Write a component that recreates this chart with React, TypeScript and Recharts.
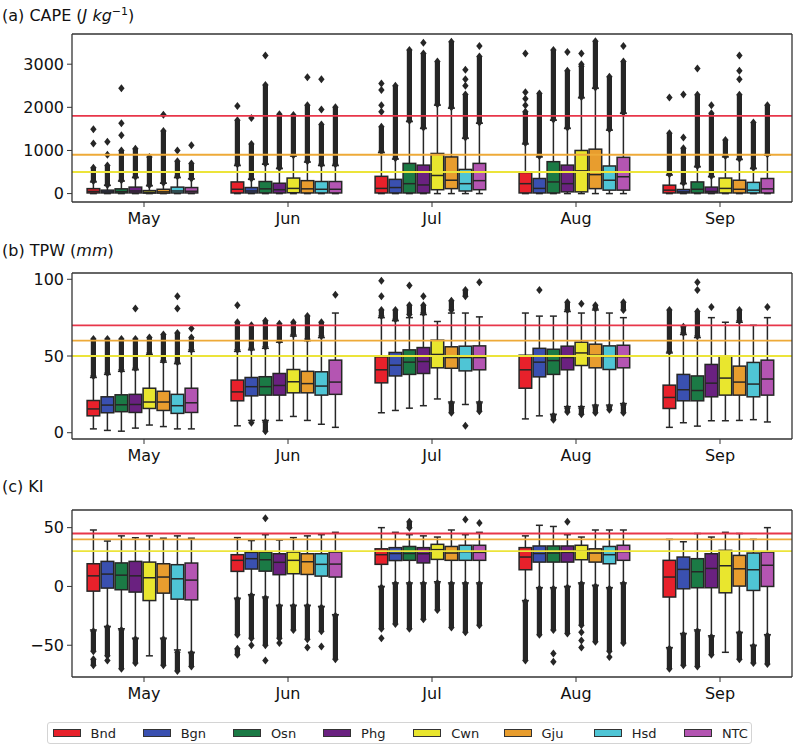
import React from "react";
import { ComposedChart, Bar, XAxis, YAxis, ReferenceLine } from "recharts";

const MONTHS = ["May", "Jun", "Jul", "Aug", "Sep"];
const STATIONS = ["Bnd", "Bgn", "Osn", "Phg", "Cwn", "Gju", "Hsd", "NTC"];
const COLORS = ["#e8212b", "#3a50b0", "#1b7a45", "#6a2180", "#e9e62e", "#e89d2e", "#4fc5d5", "#b455b2"];
const LINE_COLORS = ["#e8364a", "#eeaa38", "#ece43a"];
const EDGE = "#262626";
const AXIS = "#333";

// boxes: [low whisker, q1, median, q3, high whisker]; rows = months, columns = stations
const CAPE_BOX = [
  [[0, 15, 50, 115, 270], [0, 15, 40, 80, 190], [0, 15, 45, 110, 290], [0, 15, 60, 150, 370], [0, 10, 30, 70, 180], [0, 10, 40, 100, 240], [0, 15, 60, 150, 370], [0, 15, 55, 140, 340]],
  [[0, 15, 100, 270, 650], [0, 15, 60, 140, 330], [0, 15, 110, 280, 680], [0, 15, 90, 240, 580], [0, 20, 120, 360, 870], [0, 15, 110, 300, 730], [0, 15, 100, 280, 650], [0, 15, 100, 280, 650]],
  [[0, 15, 120, 400, 950], [0, 15, 140, 330, 800], [0, 15, 230, 700, 1670], [0, 15, 200, 660, 1510], [0, 90, 420, 930, 2050], [0, 115, 310, 850, 1980], [0, 60, 230, 560, 1280], [0, 90, 300, 700, 1630]],
  [[0, 15, 230, 490, 1150], [0, 15, 120, 350, 850], [0, 15, 270, 740, 1700], [0, 40, 230, 660, 1510], [0, 40, 527, 1000, 2220], [0, 115, 440, 1030, 2440], [0, 80, 310, 640, 1470], [0, 80, 390, 840, 1860]],
  [[0, 15, 80, 195, 430], [0, 15, 40, 95, 230], [0, 15, 100, 270, 620], [0, 15, 50, 150, 390], [0, 15, 120, 360, 850], [0, 15, 100, 310, 790], [0, 15, 80, 260, 580], [0, 15, 110, 350, 890]],
];
// dense runs of outliers [from, to]
const CAPE_RUNS = [
  [[[290, 600]], [[200, 650]], [[310, 1000]], [[390, 1040]], [[200, 850]], [[250, 1450]], [[400, 750]], [[350, 700]]],
  [[[680, 1700]], [[350, 1150]], [[700, 2520]], [[600, 1840]], [[890, 1820]], [[750, 2050]], [[680, 1600]], [[680, 2000]]],
  [[[980, 1550]], [[820, 2500]], [[1690, 3330]], [[1530, 3250]], [[2070, 3060]], [[2000, 3520]], [[1300, 2300]], [[1650, 3180]]],
  [[[1170, 1900]], [[870, 2320]], [[1720, 3330]], [[1530, 2850]], [[2240, 2950]], [[2460, 3530]], [[1490, 2710]], [[1880, 3060]]],
  [[[450, 1400]], [[250, 1050]], [[640, 2290]], [[410, 1860]], [[870, 1240]], [[810, 2290]], [[600, 1650]], [[910, 2050]]],
];
// single outliers
const CAPE_PTS = [
  [[1160, 1490], [900, 1200], [1350, 1630, 2440], [], [], [1830], [1000], [1120]],
  [[2030], [1750], [3200], [], [], [2700], [1950, 2650], []],
  [[1900, 2050, 2400, 2550], [], [], [3500], [], [], [2500, 2650, 2870], [3420]],
  [[2050, 2200, 2350, 3250], [], [], [3280], [3000, 3250], [], [], [3420]],
  [[2230], [1300, 2300], [2900], [2050], [], [2650, 2850, 3200], [], []],
];
const CAPE_LINES = [1800, 900, 500];
const CAPE_TICKS = [0, 1000, 2000, 3000];

const TPW_BOX = [
  [[2.5, 11, 15.5, 21, 36], [1.5, 13, 18, 23.4, 38], [1, 13.7, 18.2, 24.7, 40], [3, 13.2, 18.4, 25, 41], [5, 15.8, 20, 29, 51], [4, 14.5, 20, 27, 46], [2.5, 12.6, 17.6, 25, 45], [2.5, 13.2, 19.5, 29, 53]],
  [[4.5, 20.8, 26.6, 34.3, 53], [8, 24, 30, 36, 54], [8, 24.5, 30, 36.5, 55], [8, 24.5, 30.8, 38.6, 59], [10.6, 26, 33.2, 41.2, 63], [8, 26, 32, 40, 60], [5.5, 24.5, 30.4, 39.7, 62], [3.5, 25, 33, 47.3, 78]],
  [[13, 32.5, 41, 49.5, 75], [14.5, 37, 44, 52.3, 73], [16, 38, 46, 54, 75], [17.6, 38.6, 46.4, 55.5, 77], [22, 42.3, 51, 60.3, 72.5], [20, 42, 49, 56, 78], [18.4, 40.3, 49, 56.4, 78], [20, 41, 49, 56.6, 75.5]],
  [[9, 29, 41, 50.5, 78], [11, 36.4, 46, 55, 76], [12, 38, 47, 54.4, 76], [17, 41, 49, 56.4, 79], [17, 43.8, 52, 59, 78], [18, 42.3, 50.5, 57.7, 80], [18, 41.2, 49.7, 56.6, 78], [19, 42.3, 49.5, 57, 75]],
  [[3.5, 15.8, 23, 31, 52], [6.5, 20.8, 28, 38, 64], [4.3, 20.8, 27.5, 37, 62], [7.8, 23.4, 32.3, 44.5, 75], [7.8, 24.5, 35.6, 50, 72], [8, 24.5, 33, 43.4, 72], [8.5, 23.4, 31.7, 45.8, 70], [7, 24.5, 35, 47.3, 75]],
];
const TPW_RUNS = [
  [[[37, 61]], [[39, 61]], [[41, 61]], [[42, 61]], [[52, 62]], [[47, 64]], [[46, 65]], [[54, 62]]],
  [[[54, 72]], [[55, 70]], [[56, 73], [1, 7]], [[60, 71]], [[64, 72]], [[61, 76]], [[63, 72]], []],
  [[[76, 80]], [[74, 80]], [[77, 83]], [[78, 83]], [], [[80, 86], [13, 19]], [[89, 93]], [[14, 19]]],
  [[], [], [[8.5, 11]], [[80, 85], [13.5, 16]], [[12, 16]], [[81, 83], [13, 17]], [[15, 17]], [[80, 85], [13, 18]]],
  [[[53, 80]], [[65, 69]], [[63, 79]], [], [], [[73, 80]], [], []],
];
const TPW_PTS = [
  [[], [], [], [81], [], [], [81, 89], [68]],
  [[83], [6.5], [], [], [], [], [], [90]],
  [[89, 99], [], [96], [89], [], [], [4.5], [98]],
  [[], [93], [], [], [84], [], [], []],
  [[], [], [93, 98], [82], [], [], [], [82]],
];
const TPW_LINES = [70, 60, 50];
const TPW_TICKS = [0, 50, 100];

const KI_BOX = [
  [[-37, -4, 9, 19.3, 48], [-34, -1.4, 10.5, 21.3, 38.6], [-36, -2.8, 9.6, 20, 43], [-44, -4.8, 9, 21.3, 41.4], [-59, -12, 7.4, 20.7, 43], [-44, -5.7, 8, 19.3, 41], [-54, -10.8, 6.5, 18.5, 43], [-56, -11.4, 5.4, 19.9, 41]],
  [[-10, 12.8, 22.2, 27, 41.5], [-7, 14.8, 23.6, 29, 39], [-9, 13, 22.7, 29.3, 44], [-16, 10, 20.5, 27.8, 39.5], [-16, 10.8, 22.2, 29.3, 41.5], [-16, 10.2, 21, 27.8, 43], [-17, 8.8, 18.8, 27.8, 44], [-24, 8, 19, 29.3, 46]],
  [[0, 18.8, 27, 32, 50], [3, 22, 28, 33, 46], [3, 22.2, 28, 34, 44], [3, 20, 27.8, 33, 43], [4, 23, 31.3, 35.8, 42], [3, 22.2, 28.4, 34, 48], [3, 22.2, 29.5, 35, 44], [3, 22.2, 29, 35, 46]],
  [[-12, 14.2, 25, 33, 43], [-1, 20.7, 28, 34.4, 52], [-1, 20.7, 28.4, 34.4, 51], [0, 20.7, 29, 34.4, 44], [3, 22.7, 30, 35, 42], [1, 20.7, 28.4, 32, 48], [-1, 19.3, 27, 34, 48], [3, 22.2, 29.5, 35, 48]],
  [[-52, -9, 8, 22.2, 40], [-40, -2, 14.5, 25, 38], [-37, -1.1, 12.5, 23.6, 45], [-42, -1.1, 15.3, 27.8, 42], [-56, -5.4, 17.6, 30.7, 46], [-39, 0.3, 15, 26.4, 45], [-50, -3.4, 14.2, 28.4, 40], [-41, 0, 18, 29.3, 50]],
];
const KI_RUNS = [
  [[[-55, -38], [-67, -62]], [[-59, -35]], [[-70, -37]], [[-65, -45]], [], [[-67, -45]], [[-72, -56]], [[-68, -57]]],
  [[[-41, -11], [-58, -53]], [[-44, -8]], [[-50, -10]], [[-44, -17]], [[-37, -17]], [[-45, -17]], [[-38, -18]], [[-62, -25]]],
  [[[-36, -1]], [[-32, 2]], [[50, 55], [-36, 2]], [[-28, 2]], [[-20, 3]], [[-35, 2]], [[-39, 2]], [[-33, 2]]],
  [[[-63, -13]], [[-41, -2]], [[-37, -2]], [[-40, -1]], [[-33, 2]], [[-47, 0]], [[-55, -2]], [[-48, 2]]],
  [[[-70, -53]], [[-67, -41]], [[-68, -38]], [[-58, -43]], [], [[-62, -40]], [[-65, -51]], [[-66, -42]]],
];
const KI_PTS = [
  [[], [-63], [], [], [], [], [], []],
  [[], [-50], [58, -63], [-48], [], [-52], [-51], []],
  [[-44], [], [], [], [], [], [57], [54]],
  [[], [], [-57, -64], [55], [-39, -46, -52], [], [-60], []],
  [[], [], [], [], [], [], [], []],
];
const KI_LINES = [45, 40, 30];
const KI_TICKS = [-50, 0, 50];

const TICK = { fontSize: 16, fill: "#111", fontFamily: "DejaVu Sans" };
const minus = (v: number) => String(v).replace("-", "\u2212");

type Box = number[];

function diamond(cx: number, cy: number, key: string | number) {
  return (
    <path
      key={key}
      d={`M${cx},${cy - 4} L${cx + 3.2},${cy} L${cx},${cy + 4} L${cx - 3.2},${cy} Z`}
      fill={EDGE}
    />
  );
}

function makeShape(boxes: Box[][], runs: number[][][][], pts: number[][][], j: number) {
  return (props: any) => {
    const { x, y, width, height, payload, index } = props;
    let i = payload ? MONTHS.indexOf(payload.month) : -1;
    if (i < 0) i = index;
    const [lo, hi] = payload[STATIONS[j]];
    const top = Math.min(y, y + height);
    const bot = Math.max(y, y + height);
    const py = (v: number) => (hi === lo ? bot : bot - ((v - lo) / (hi - lo)) * (bot - top));
    const [w0, q1, md, q3, w1] = boxes[i][j];
    const cx = x + width / 2;
    const cap = width / 4;
    return (
      <g>
        <line x1={cx} x2={cx} y1={py(q3)} y2={py(w1)} stroke={EDGE} strokeWidth={1.5} />
        <line x1={cx} x2={cx} y1={py(q1)} y2={py(w0)} stroke={EDGE} strokeWidth={1.5} />
        <line x1={cx - cap} x2={cx + cap} y1={py(w1)} y2={py(w1)} stroke={EDGE} strokeWidth={1.5} />
        <line x1={cx - cap} x2={cx + cap} y1={py(w0)} y2={py(w0)} stroke={EDGE} strokeWidth={1.5} />
        <rect
          x={x + 0.7}
          y={py(q3)}
          width={width - 1.4}
          height={py(q1) - py(q3)}
          fill={COLORS[j]}
          stroke={EDGE}
          strokeWidth={1.5}
        />
        <line x1={x + 0.7} x2={x + width - 0.7} y1={py(md)} y2={py(md)} stroke={EDGE} strokeWidth={1.5} />
        {runs[i][j].map(([a, b], k) => (
          <g key={`r${k}`}>
            <rect x={cx - 2.6} y={py(Math.max(a, b))} width={5.2} height={Math.abs(py(a) - py(b))} fill={EDGE} />
            {diamond(cx, py(a), "a")}
            {diamond(cx, py(b), "b")}
          </g>
        ))}
        {pts[i][j].map((v, k) => diamond(cx, py(v), `p${k}`))}
      </g>
    );
  };
}

interface PanelProps {
  boxes: Box[][];
  runs: number[][][][];
  pts: number[][][];
  lines: number[];
  ticks: number[];
  domain: [number, number];
  height: number;
  marginTop: number;
}

function Panel({ boxes, runs, pts, lines, ticks, domain, height, marginTop }: PanelProps) {
  const rows = MONTHS.map((m, i) => {
    const row: Record<string, any> = { month: m };
    STATIONS.forEach((s, j) => {
      const vals = [...boxes[i][j], ...runs[i][j].flat(), ...pts[i][j]];
      row[s] = [Math.min(...vals), Math.max(...vals)];
    });
    return row;
  });

  return (
    <ComposedChart
      width={800}
      height={height}
      data={rows}
      margin={{ top: marginTop, right: 8, bottom: 0, left: 0 }}
      barCategoryGap="10%"
      barGap={0}
    >
      <XAxis
        dataKey="month"
        height={30}
        interval={0}
        tick={TICK}
        tickSize={5}
        tickMargin={6}
        tickLine={{ stroke: AXIS }}
        axisLine={{ stroke: AXIS, strokeWidth: 1.3 }}
      />
      <YAxis
        type="number"
        width={72}
        domain={domain}
        ticks={ticks}
        allowDataOverflow
        tick={TICK}
        tickFormatter={minus}
        tickSize={5}
        tickMargin={3}
        tickLine={{ stroke: AXIS }}
        axisLine={{ stroke: AXIS, strokeWidth: 1.3 }}
      />
      {STATIONS.map((s, j) => (
        <Bar key={s} dataKey={s} isAnimationActive={false} shape={makeShape(boxes, runs, pts, j)} />
      ))}
      {lines.map((v, k) => (
        <ReferenceLine key={k} y={v} stroke={LINE_COLORS[k]} strokeWidth={1.8} />
      ))}
      {/* top and right frame lines */}
      <ReferenceLine y={domain[1]} stroke={AXIS} strokeWidth={1.3} ifOverflow="visible" />
      <ReferenceLine x={MONTHS[MONTHS.length - 1]} position="end" stroke={AXIS} strokeWidth={1.3} ifOverflow="visible" />
    </ComposedChart>
  );
}

const titleStyle: React.CSSProperties = {
  position: "absolute",
  left: 2,
  fontSize: 16,
  lineHeight: "normal",
  whiteSpace: "nowrap",
  color: "#111",
};

export default function App() {
  return (
    <div
      style={{
        position: "absolute",
        left: 0,
        top: 0,
        width: 800,
        height: 746,
        background: "#fff",
        fontFamily: "DejaVu Sans",
        overflow: "hidden",
      }}
    >
      <div style={{ ...titleStyle, top: 5 }}>
        (a) CAPE (<i>J kg</i>
        <sup style={{ fontSize: 11 }}>−1</sup>)
      </div>
      <div style={{ ...titleStyle, top: 241 }}>
        (b) TPW (<i>mm</i>)
      </div>
      <div style={{ ...titleStyle, top: 477 }}>(c) KI</div>

      <div style={{ position: "absolute", left: 0, top: 0 }}>
        <Panel boxes={CAPE_BOX} runs={CAPE_RUNS} pts={CAPE_PTS} lines={CAPE_LINES} ticks={CAPE_TICKS} domain={[-195, 3700]} height={232} marginTop={34} />
      </div>
      <div style={{ position: "absolute", left: 0, top: 232 }}>
        <Panel boxes={TPW_BOX} runs={TPW_RUNS} pts={TPW_PTS} lines={TPW_LINES} ticks={TPW_TICKS} domain={[-4.1, 104.1]} height={237} marginTop={41} />
      </div>
      <div style={{ position: "absolute", left: 0, top: 469 }}>
        <Panel boxes={KI_BOX} runs={KI_RUNS} pts={KI_PTS} lines={KI_LINES} ticks={KI_TICKS} domain={[-77, 65]} height={238} marginTop={41} />
      </div>

      <div
        style={{
          position: "absolute",
          left: 47,
          top: 722,
          width: 705,
          height: 22,
          border: "1px solid #d4d4d4",
          borderRadius: 3,
          boxSizing: "border-box",
        }}
      >
        {STATIONS.map((s, j) => (
          <div
            key={s}
            style={{ position: "absolute", left: 4.5 + j * 90.2, top: 0, height: 20, display: "flex", alignItems: "center" }}
          >
            <span style={{ width: 28, height: 8, background: COLORS[j], border: "1px solid #333", boxSizing: "border-box" }} />
            <span style={{ marginLeft: 10, fontSize: 13, color: "#222" }}>{s}</span>
          </div>
        ))}
      </div>
    </div>
  );
}
